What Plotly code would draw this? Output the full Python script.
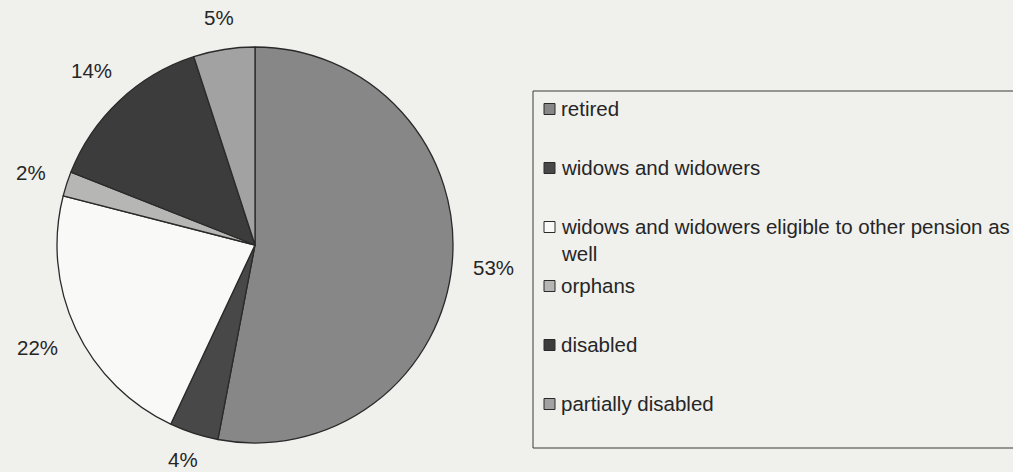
import math
import plotly.graph_objects as go

# ---- data ----
categories = [
    "retired",
    "widows and widowers",
    "widows and widowers eligible to other pension as<br>well",
    "orphans",
    "disabled",
    "partially disabled",
]
shares = [53, 4, 22, 2, 14, 5]
label_text = [f"{v}%" for v in shares]

# ---- styling ----
colors = ["#878787", "#484848", "#f9f9f7", "#b6b6b4", "#3c3c3c", "#a2a2a2"]
BG = "#f0f0ed"
INK = "#262626"
FONT = "Liberation Sans, Arial, sans-serif"
W, H = 1013, 472
CX, CY, R = 255, 245, 198  # pie centre / radius in pixels
FS = 20.5

fig = go.Figure(
    go.Pie(
        labels=[c.replace("<br>", " ") for c in categories],
        values=shares,
        sort=False,
        direction="clockwise",
        rotation=0,
        textinfo="none",
        hoverinfo="label+percent",
        showlegend=False,
        marker=dict(colors=colors, line=dict(color="#2a2a2a", width=1.3)),
        domain=dict(x=[(CX - R) / W, (CX + R) / W], y=[1 - (CY + R) / H, 1 - (CY - R) / H]),
    )
)

def px(x):
    return x / W

def py(y):
    return 1 - y / H

# percentage labels placed outside the slices, from the data
total = sum(shares)
cum = 0
annotations = []
shapes = []
gap = 20

def text_w(s):
    return sum(0.889 if c == "%" else 0.556 for c in s) * FS

for v, t in zip(shares, label_text):
    mid = (cum + v / 2) / total * 2 * math.pi
    cum += v
    dx, dy = math.sin(mid), -math.cos(mid)
    support = abs(dx) * text_w(t) / 2 + abs(dy) * FS * 0.5
    d = R + gap + support
    lx, ly = CX + dx * d, CY + dy * d
    ly = min(ly, H - FS * 0.62)  # keep label inside the frame
    annotations.append(dict(
        x=px(lx), y=py(ly), xref="paper", yref="paper",
        text=t, showarrow=False, xanchor="center", yanchor="middle",
        font=dict(family=FONT, size=FS, color=INK),
    ))

# legend box (drawn to mimic the original layout)
LEG_L, LEG_T, LEG_B = 533, 91, 448
ROW0, ROW_STEP = 108, 59
SW_X, SW = 544, 11
TXT_X = 559
shapes.append(dict(type="rect", xref="paper", yref="paper",
                   x0=px(LEG_L), x1=px(W + 5), y0=py(LEG_B), y1=py(LEG_T),
                   line=dict(color="#3a3a3a", width=1), fillcolor=BG, layer="below"))
for i, (name, col) in enumerate(zip(categories, colors)):
    yc = ROW0 + i * ROW_STEP
    shapes.append(dict(type="rect", xref="paper", yref="paper",
                       x0=px(SW_X), x1=px(SW_X + SW), y0=py(yc + SW / 2 + 1), y1=py(yc - SW / 2 + 1),
                       line=dict(color="#2a2a2a", width=1), fillcolor=col))
    annotations.append(dict(
        x=px(TXT_X), y=py(yc - FS * 0.65), xref="paper", yref="paper",
        text=name, showarrow=False, xanchor="left", yanchor="top", align="left",
        font=dict(family=FONT, size=FS, color=INK),
    ))

fig.update_layout(
    width=W, height=H,
    margin=dict(l=0, r=0, t=0, b=0, pad=0),
    paper_bgcolor=BG, plot_bgcolor=BG,
    annotations=annotations,
    shapes=shapes,
    showlegend=False,
)

fig.write_html("out.html", config={"displayModeBar": False},
               post_script="document.body.style.margin='0px';")
